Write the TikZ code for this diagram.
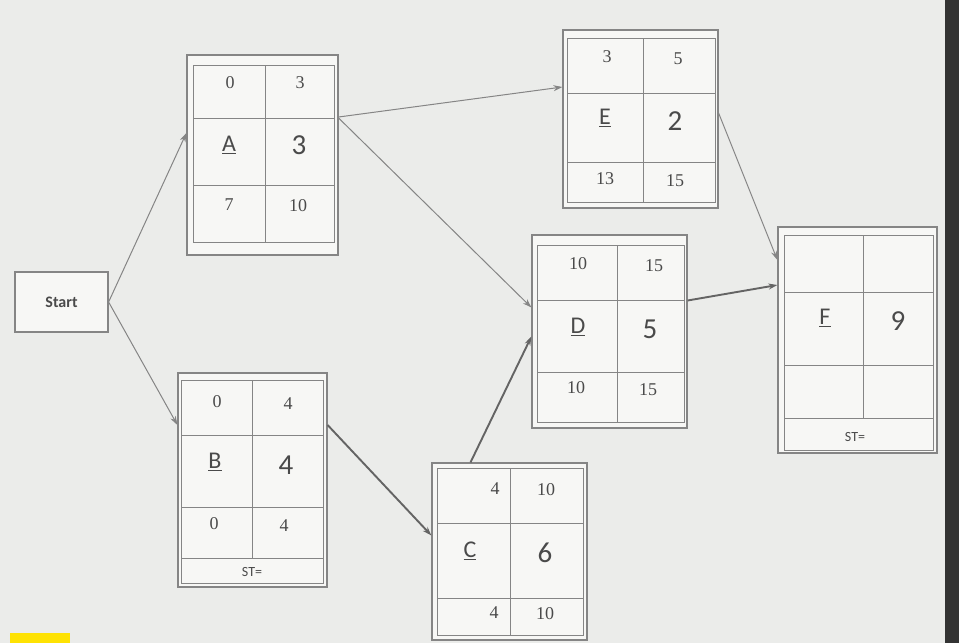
\documentclass[tikz,border=0pt]{standalone}
\usepackage{fontspec}
\setmainfont{Carlito}
\newfontfamily\numfont{Liberation Serif}
\usetikzlibrary{arrows.meta,positioning,calc}
\definecolor{linegray}{HTML}{858585}
\definecolor{txtgray}{HTML}{4A4A4A}
\definecolor{boxfill}{HTML}{F7F7F5}
\definecolor{bggray}{HTML}{EBECEA}
% grid of one activity box: x1 y1 x2 y2 column row1 row2
\newcommand{\actgrid}[7]{\draw[grid] (#1,#2) rectangle (#3,#4) (#5,#2) -- (#5,#4) (#1,#6) -- (#3,#6) (#1,#7) -- (#3,#7);}

\begin{document}
\begin{tikzpicture}[
    x=1pt, y=-1pt,
    >={Stealth[length=9pt,width=6pt]},
    frame/.style={draw=linegray, fill=boxfill, line width=1.2pt, inner sep=0pt},
    grid/.style={draw=linegray, line width=1pt},
    num/.style={font=\numfont\fontsize{18}{18}\selectfont, text=txtgray},
    dur/.style={font=\fontsize{29}{29}\selectfont, text=txtgray},
    act/.style={font=\fontsize{24}{24}\selectfont, text=txtgray},
    link/.style={->, draw=linegray, line width=1pt},
    crit/.style={->, draw=linegray!75!black, line width=1.9pt}
]
  % Background
  \fill[bggray] (0,0) rectangle (959,643);
  \fill[black!80] (945,0) rectangle (959,643);
  \fill[yellow!85!orange] (10,633) rectangle (70,643);
  \useasboundingbox (0,0) rectangle (959,643);

  % Start
  \node[frame, minimum width=93pt, minimum height=60pt, font=\bfseries\fontsize{16}{16}\selectfont, text=txtgray] (Start) at (61.5,302) {Start};

  % Activity A
  \node[frame, minimum width=151pt, minimum height=200pt] (A) at (262.5,155) {};
  \actgrid{193}{65}{334}{242}{265}{118}{185}
  \node[num] (a1) at (230,83) {0};
  \node[num] (a2) at (300,83) {3};
  \node[act] (a3) at (229,145) {\underline{A}};
  \node[dur] (a4) at (299,145) {3};
  \node[num] (a5) at (229,205) {7};
  \node[num] (a6) at (298,206) {10};

  % Activity B
  \node[frame, minimum width=149pt, minimum height=214pt] (B) at (252.5,480) {};
  \actgrid{181}{380}{323}{558}{252}{435}{507}
  \draw[grid] (181,558) rectangle (323,583);
  \node[num] (b1) at (217,402) {0};
  \node[num] (b2) at (288,404) {4};
  \node[act] (b3) at (215,462) {\underline{B}};
  \node[dur] (b4) at (286,465) {4};
  \node[num] (b5) at (214,524) {0};
  \node[num] (b6) at (284,526) {4};
  \node[font=\fontsize{14}{14}\selectfont, text=txtgray] (b7) at (252,572) {ST=};

  % Activity C
  \node[frame, minimum width=155pt, minimum height=177pt] (C) at (509.5,551.5) {};
  \actgrid{437}{468}{583}{635}{510}{523}{598}
  \node[num] (c1) at (495,489) {4};
  \node[num] (c2) at (546,490) {10};
  \node[act] (c3) at (470,551) {\underline{C}};
  \node[dur] (c4) at (545,553) {6};
  \node[num] (c5) at (494,613) {4};
  \node[num] (c6) at (545,614) {10};

  % Activity D
  \node[frame, minimum width=155pt, minimum height=193pt] (D) at (609.5,331.5) {};
  \actgrid{537}{245}{684}{422}{617}{300}{372}
  \node[num] (d1) at (578,264) {10};
  \node[num] (d2) at (654,266) {15};
  \node[act] (d3) at (578,327) {\underline{D}};
  \node[dur] (d4) at (650,329) {5};
  \node[num] (d5) at (576,388) {10};
  \node[num] (d6) at (648,390) {15};

  % Activity E
  \node[frame, minimum width=155pt, minimum height=178pt] (E) at (640.5,119) {};
  \actgrid{567}{38}{715}{202}{643}{93}{162}
  \node[num] (e1) at (607,57) {3};
  \node[num] (e2) at (678,59) {5};
  \node[act] (e3) at (605,118) {\underline{E}};
  \node[dur] (e4) at (675,121) {2};
  \node[num] (e5) at (605,179) {13};
  \node[num] (e6) at (675,181) {15};

  % Activity F
  \node[frame, minimum width=159pt, minimum height=226pt] (F) at (857.5,340) {};
  \actgrid{784}{235}{933}{418}{863}{292}{365}
  \draw[grid] (784,418) rectangle (933,450);
  \node[act] (f1) at (825,318) {\underline{F}};
  \node[dur] (f2) at (898,321) {9};
  \node[font=\fontsize{14}{14}\selectfont, text=txtgray] (f3) at (855,437) {ST=};

  % Connections
  \draw[link] (Start.east) -- ([yshift=22pt]A.west);
  \draw[link] (Start.east) -- ([yshift=55pt]B.west);
  \draw[link] ([yshift=38pt]A.east) -- ([yshift=32pt]E.west);
  \draw[link] ([yshift=37pt]A.east) -- ([yshift=24pt]D.west);
  \draw[crit] ([yshift=55pt]B.east) -- ([yshift=16pt]C.west);
  \draw[crit] ([xshift=-39pt]C.north) -- ([yshift=-5pt]D.west);
  \draw[link] ([yshift=6pt]E.east) -- ([yshift=80pt]F.west);
  \draw[crit] ([yshift=31pt]D.east) -- ([yshift=55pt]F.west);
\end{tikzpicture}
\end{document}
